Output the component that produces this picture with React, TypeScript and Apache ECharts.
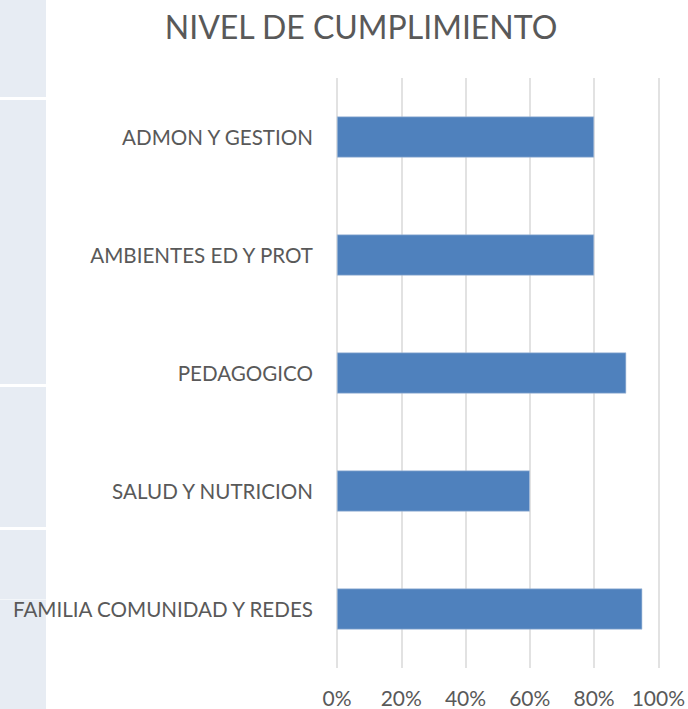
import React, { useEffect, useRef } from "react";
import * as echarts from "echarts";

const categories = [
  "ADMON Y GESTION",
  "AMBIENTES ED Y PROT",
  "PEDAGOGICO",
  "SALUD Y NUTRICION",
  "FAMILIA COMUNIDAD Y REDES",
];
const values = [0.8, 0.8, 0.9, 0.6, 0.95];
const xTicks = [0, 0.2, 0.4, 0.6, 0.8, 1.0];

const FONT = "Lato, 'Open Sans', sans-serif";
const TEXT = "#595959";
const STRIP = "#e7ecf3";

export default function App() {
  const ref = useRef<HTMLDivElement>(null);
  useEffect(() => {
    document.body.style.margin = "0";
    const chart = echarts.init(ref.current!, null, { renderer: "svg" });
    chart.setOption({
      animation: false,
      backgroundColor: "#ffffff",
      title: {
        text: "NIVEL DE CUMPLIMIENTO",
        left: 356,
        textAlign: "center",
        top: 5,
        textStyle: { fontFamily: FONT, fontSize: 32, fontWeight: "normal", color: TEXT },
      },
      graphic: [
        { type: "rect", shape: { x: 0, y: 0, width: 46, height: 97 }, style: { fill: STRIP }, silent: true },
        { type: "rect", shape: { x: 0, y: 100, width: 46, height: 284 }, style: { fill: STRIP }, silent: true },
        { type: "rect", shape: { x: 0, y: 387, width: 46, height: 140 }, style: { fill: STRIP }, silent: true },
        { type: "rect", shape: { x: 0, y: 530, width: 46, height: 179 }, style: { fill: STRIP }, silent: true },
        { type: "rect", shape: { x: 0, y: 599, width: 46, height: 1 }, style: { fill: "#f3f6f9" }, silent: true },
      ],
      grid: { left: 337, right: 28, top: 78, bottom: 41, containLabel: false },
      xAxis: {
        type: "value",
        min: 0,
        max: 1,
        interval: 0.2,
        axisLine: { show: false },
        axisTick: { show: false },
        splitLine: { lineStyle: { color: "#d9d9d9", width: 1.5 } },
        axisLabel: {
          margin: 19,
          fontFamily: FONT,
          fontSize: 21,
          color: TEXT,
          formatter: (v: number) => {
            const t = xTicks.find((x) => Math.abs(x - v) < 1e-6);
            return t === undefined ? "" : Math.round(t * 100) + "%";
          },
        },
      },
      yAxis: {
        type: "category",
        data: categories,
        inverse: true,
        axisLine: { show: false },
        axisTick: { show: false },
        axisLabel: { margin: 24, fontFamily: FONT, fontSize: 20.6, color: TEXT },
      },
      series: [
        {
          type: "bar",
          data: values,
          barWidth: 41,
          itemStyle: { color: "#4f81bd", borderColor: "#a9bfdc", borderWidth: 0.6 },
        },
      ],
    });
    return () => chart.dispose();
  }, []);
  return <div ref={ref} style={{ width: 688, height: 709 }} />;
}
